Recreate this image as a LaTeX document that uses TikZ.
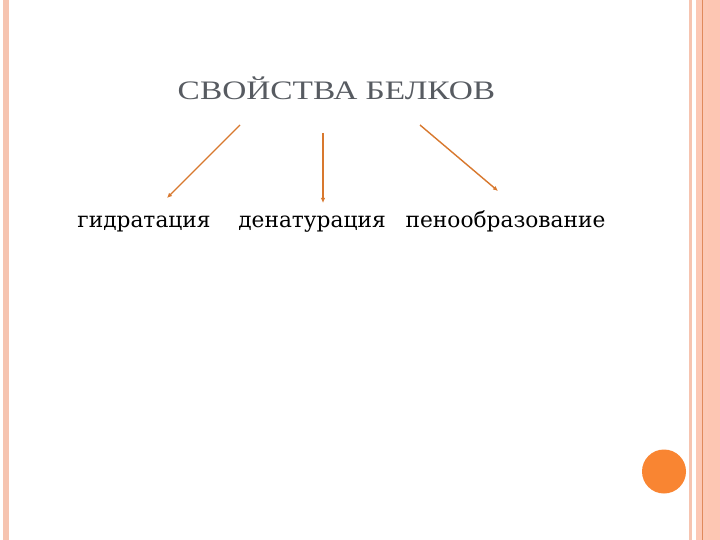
\documentclass[tikz,border=0pt]{standalone}
\usepackage{fontspec}
\setmainfont{DejaVu Serif}
\newfontfamily\titlefont{Liberation Serif}[FakeStretch=1.25]
\usetikzlibrary{arrows.meta}
\definecolor{stripe}{HTML}{F6C4B0}
\definecolor{peach}{HTML}{FCC8B5}
\definecolor{peachb}{HTML}{FDC6B3}
\definecolor{lineor}{HTML}{E08A5C}
\definecolor{arr}{HTML}{D8782E}
\definecolor{dot}{HTML}{F98532}
\definecolor{titlegray}{HTML}{575B61}
\tikzset{
  lbl/.style={font=\fontsize{21.8}{24}\selectfont, anchor=base, inner sep=0pt},
  conn/.style={draw=arr, line width=1.4bp, -{Latex[length=5bp,width=4.5bp]}},
}
\begin{document}
\begin{tikzpicture}[x=1bp,y=-1bp]
\useasboundingbox (0,0) rectangle (720,540);
\fill[white] (0,0) rectangle (720,540);
% left stripe
\fill[stripe] (3,0) rectangle (9,540);
% right stripes
\fill[stripe] (689,0) rectangle (692,540);
\fill[peach] (696,0) rectangle (720,540);
\fill[peachb] (708,0) rectangle (720,540);
\fill[lineor] (701.5,0) rectangle (702.7,540);
% dot
\fill[dot] (664,471.5) circle (22);
% title
\node[anchor=base, inner sep=0pt, text=titlegray, font=\titlefont\fontsize{26.8}{28}\selectfont] (title) at (336.5,100) {СВОЙСТВА БЕЛКОВ};
% labels
\node[lbl] (a) at (144,228) {гидратация};
\node[lbl] (b) at (312,228) {денатурация};
\node[lbl] (c) at (505.5,228) {пенообразование};
% connectors
\coordinate (s1) at (240,125);
\coordinate (s2) at (323,133);
\coordinate (s3) at (420,125);
\coordinate (e1) at (167,198);
\coordinate (e2) at (323,203);
\coordinate (e3) at (498,191);
\draw[conn] (s1) -- (e1);
\draw[conn] (s2) -- (e2);
\draw[conn] (s3) -- (e3);
\end{tikzpicture}
\end{document}
